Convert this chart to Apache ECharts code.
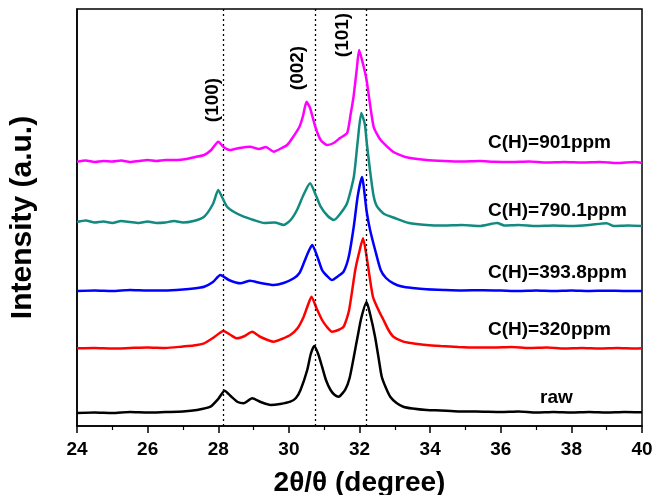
<!DOCTYPE html>
<html>
<head>
<meta charset="utf-8">
<script src="https://cdn.jsdelivr.net/npm/echarts@6/dist/echarts.min.js"></script>
<style>
  html, body { margin: 0; padding: 0; background: #fff; }
  #chart { width: 654px; height: 495px; }
</style>
</head>
<body>
<div id="chart"></div>
<script>
// XRD 图谱：2θ（度）对 强度（任意单位，已叠加偏移）
var xTicks = [24, 26, 28, 30, 32, 34, 36, 38, 40]
var peakPos = [28.15, 30.75, 32.2]
var peakLabels = ['(100)', '(002)', '(101)']
var seriesNames = ['raw', 'C(H)=320ppm', 'C(H)=393.8ppm', 'C(H)=790.1ppm', 'C(H)=901ppm']

var raw = [[24,13],[24.5,13.5],[25,13],[25.5,14],[26,13.5],[26.5,14],[27,14.5],[27.4,16],[27.78,19.3],
  [28,27],[28.18,35.3],[28.35,30],[28.55,24],[28.72,22.7],[28.96,27.7],[29.2,24],[29.48,21],[29.75,22],
  [30.04,24.3],[30.2,28],[30.33,36],[30.52,56],[30.62,72],[30.72,80],[30.83,72],[30.94,59.3],[31.05,46],
  [31.18,36],[31.3,31],[31.41,29.3],[31.6,36.7],[31.72,48],[31.84,69.3],[31.95,90],[32.05,108],[32.2,124],
  [32.3,112],[32.44,89.3],[32.55,66],[32.63,49.3],[32.75,38],[32.87,29.3],[33.05,23],[33.24,19.3],[33.5,17.5],
  [33.9,16],[34.3,15.5],[34.8,14.5],[35.3,14.5],[36,14],[36.5,14.5],[37,13.5],[37.5,14],[38,13.5],[38.5,14],
  [39,13.5],[39.5,14],[40,13.7]]

var ppm320 = [[24,77.7],[24.5,78],[25,77.5],[25.5,78],[26,78.5],[26.5,78],[27,79.5],[27.3,80.5],[27.6,82.7],
  [27.85,88],[28.15,95],[28.35,91],[28.53,87.7],[28.75,90],[28.96,94.3],[29.2,89],[29.57,84.3],[29.8,87],
  [30.04,91],[30.25,98],[30.42,109.3],[30.53,120],[30.64,129.3],[30.78,118],[30.94,106],[31.08,99],[31.22,94.3],
  [31.4,96],[31.55,99.3],[31.7,115],[31.88,156],[32,175],[32.1,187.7],[32.22,165],[32.38,129.3],[32.55,115],
  [32.68,106],[32.82,96],[32.96,89.3],[33.24,84.3],[33.45,83],[33.9,81],[34.3,80],[34.8,79],[35.3,78.5],
  [35.8,78.5],[36.3,79],[36.8,78],[37.3,78.5],[37.8,77.5],[38.3,78],[38.8,77.5],[39.3,78],[39.8,77.5],[40,77.7]]

var ppm393 = [[24,135],[24.5,135.5],[25,135],[25.5,136],[26,135.5],[26.5,135.5],[27,136.5],[27.3,137.5],
  [27.6,139.3],[27.85,144],[28.06,151],[28.3,146],[28.63,142.7],[28.9,145.3],[29.2,143],[29.57,141],[29.85,143],
  [30.14,147.7],[30.3,153],[30.42,162.7],[30.55,174],[30.66,181],[30.8,170],[30.94,156],[31.08,150],[31.22,146],
  [31.4,150],[31.55,154.3],[31.7,170],[31.84,200],[31.95,230],[32.07,249],[32.2,215],[32.3,196],[32.45,175],
  [32.6,156],[32.75,148],[32.96,142.7],[33.2,139.5],[33.5,138],[33.9,136.7],[34.4,136],[34.9,135.5],[35.5,135.8],
  [36,135.5],[36.5,135],[37,135.5],[37.5,135],[38,135.5],[38.5,135],[39,135.3],[39.5,135],[40,135]]

var ppm790 = [[24,204],[24.25,205.5],[24.5,203.5],[24.75,204.5],[25,203],[25.25,205],[25.5,204],[25.75,203],
  [26,204.5],[26.25,203],[26.5,203.5],[26.75,205],[27,203.5],[27.3,205],[27.6,209.3],[27.85,222],[28,236],
  [28.12,228],[28.25,219.3],[28.45,214],[28.72,209.3],[29,206],[29.3,203],[29.6,203.5],[29.85,201],[30.05,206],
  [30.23,216],[30.4,230],[30.6,242.7],[30.75,232],[30.9,219.3],[31.1,210],[31.27,206],[31.45,212],[31.65,223],
  [31.84,249.3],[31.95,285],[32.05,313],[32.15,302],[32.2,285],[32.3,255],[32.4,230],[32.5,219.3],[32.7,212],
  [33,208],[33.4,203],[33.9,201],[34.4,200.5],[34.9,201],[35.4,200],[35.9,203],[36.1,200.5],[36.5,201],
  [37,200],[37.5,200.5],[38,200],[38.5,201],[39,202.8],[39.2,200],[39.6,200.5],[40,200]]

var ppm901 = [[24,264.3],[24.25,265.5],[24.5,264],[24.75,265],[25,264.5],[25.25,265.5],[25.5,264],[25.75,265],
  [26,266],[26.25,265],[26.5,266],[26.83,266],[27.1,267],[27.35,269],[27.6,271],[27.8,276],[28,284.3],
  [28.15,279],[28.33,276],[28.6,278],[28.9,279.3],[29.15,277],[29.35,279],[29.57,274.3],[29.8,278],[29.95,281],
  [30.1,288],[30.3,299.3],[30.4,310],[30.5,324.3],[30.6,318],[30.75,299],[30.9,286],[31.08,281],[31.27,283],
  [31.45,288],[31.65,293],[31.75,312],[31.83,329],[31.92,356],[31.99,376],[32.1,362],[32.2,346],[32.4,299.3],
  [32.6,286],[32.95,274.3],[33.3,269],[33.9,266],[34.4,265],[34.9,264.5],[35.4,265],[35.8,264.3],[36.3,264],
  [36.8,264.5],[37.3,263.5],[37.8,264],[38.3,263.5],[38.8,264],[39.3,263],[39.8,264],[40,263]]

var seriesData = [raw, ppm320, ppm393, ppm790, ppm901]
var colors = ['#000000', '#ff0000', '#0000ff', '#138a80', '#ff00ff']

var FONT = 'Liberation Sans, Arial, sans-serif'
var chart = echarts.init(document.getElementById('chart'))

var series = seriesData.map(function (d, i) {
  var s = {
    name: seriesNames[i],
    type: 'line',
    data: d,
    smooth: 0.2,
    showSymbol: false,
    lineStyle: { color: colors[i], width: 2.5 },
    itemStyle: { color: colors[i] },
    z: 3 + i
  }
  if (i === 0) {
    // 虚线标出三个衍射峰位置
    s.markLine = {
      silent: true,
      symbol: 'none',
      label: { show: false },
      lineStyle: { color: '#000', type: [2, 3], width: 1.3 },
      data: peakPos.map(function (p) { return { xAxis: p } })
    }
  }
  return s
})

// 文字标注（像素位置）
var labelPos = [[540, 398], [488, 330], [488, 273], [488, 211], [488, 143]]
var graphics = []
seriesNames.forEach(function (n, i) {
  graphics.push({
    type: 'text',
    x: labelPos[i][0],
    y: labelPos[i][1],
    style: { text: n, fontFamily: FONT, fontWeight: 'bold', fontSize: 19, fill: '#000', textVerticalAlign: 'middle' },
    z: 10
  })
})
var peakLabelPos = [[213, 100], [298, 68], [343, 35]]
peakLabels.forEach(function (t, i) {
  graphics.push({
    type: 'text',
    x: peakLabelPos[i][0],
    y: peakLabelPos[i][1],
    rotation: Math.PI / 2,
    style: { text: t, fontFamily: FONT, fontWeight: 'bold', fontSize: 19, fill: '#000', textAlign: 'center', textVerticalAlign: 'middle' },
    z: 10
  })
})

var option = {
  animation: false,
  backgroundColor: '#fff',
  grid: { left: 77, right: 12, top: 9, bottom: 69, show: true, borderColor: '#000', borderWidth: 1.5, outerBoundsMode: 'none' },
  xAxis: {
    type: 'value',
    min: 24, max: 40, interval: 2,
    name: '2θ/θ (degree)',
    nameLocation: 'middle',
    nameGap: 43,
    nameTextStyle: { fontFamily: FONT, fontWeight: 'bold', fontSize: 28, color: '#000' },
    axisLine: { show: true, lineStyle: { color: '#000', width: 1.5 } },
    axisTick: { show: true, inside: false, length: 7, lineStyle: { color: '#000', width: 1.5 } },
    minorTick: { show: true, splitNumber: 2, length: 4, lineStyle: { color: '#000', width: 1.2 } },
    axisLabel: {
      margin: 14, fontFamily: FONT, fontWeight: 'bold', fontSize: 19, color: '#000',
      formatter: function (v) { return xTicks.indexOf(v) >= 0 ? String(v) : '' }
    },
    splitLine: { show: false }
  },
  yAxis: {
    type: 'value',
    min: 0, max: 417,
    name: 'Intensity (a.u.)',
    nameLocation: 'middle',
    nameGap: 39,
    nameTextStyle: { fontFamily: FONT, fontWeight: 'bold', fontSize: 30, color: '#000' },
    axisLine: { show: true, lineStyle: { color: '#000', width: 1.5 } },
    axisTick: { show: false },
    axisLabel: { show: false },
    splitLine: { show: false }
  },
  series: series,
  graphic: graphics
}
chart.setOption(option)
</script>
</body>
</html>
